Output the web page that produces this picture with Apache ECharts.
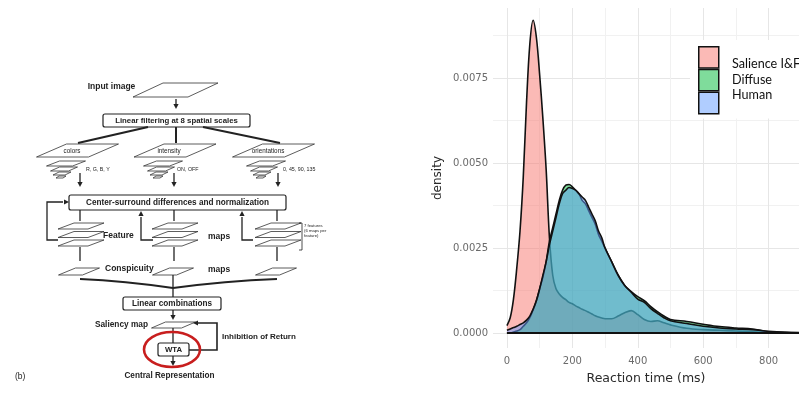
<!DOCTYPE html>
<html><head><meta charset="utf-8">
<script src="https://cdn.jsdelivr.net/npm/echarts@6/dist/echarts.min.js"></script>
<style>html,body{margin:0;padding:0;background:#fff}#c{width:799px;height:413px}</style>
</head><body><div id="c"></div>
<script>
// ---------- data ----------
const reactionTimes = [0,10,20,30,40,50,60,70,80,90,100,110,120,130,140,150,160,170,180,190,200,210,220,230,240,250,260,270,280,290,300,320,340,360,380,400,420,440,460,480,500,550,600,650,700,750,800,850,900];
const salience = [0.00022,0.00045,0.0010,0.0019,0.0030,0.0046,0.0068,0.0085,0.0092,0.0087,0.0076,0.0063,0.0048,0.0028,0.0017,0.0013,0.00115,0.00105,0.00098,0.0009,0.00086,0.0008,0.00075,0.0007,0.00066,0.00061,0.00056,0.00051,0.00047,0.00044,0.00042,0.00042,0.0005,0.0006,0.00066,0.00054,0.0004,0.00034,0.00036,0.0003,0.00024,0.00014,0.0001,0.00008,0.00006,0.00004,0.00002,0.00001,0];
const diffuse = [0,0,0.00003,0.00006,0.0001,0.0002,0.0003,0.00045,0.00068,0.00095,0.0013,0.00165,0.0021,0.0027,0.0031,0.0035,0.0039,0.0042,0.00435,0.00437,0.0043,0.0042,0.0041,0.0039,0.0038,0.0036,0.0034,0.0032,0.0029,0.0027,0.0025,0.0021,0.0017,0.0014,0.00122,0.00107,0.00095,0.00078,0.00063,0.0005,0.0004,0.00034,0.00026,0.00019,0.00015,0.00012,0.00004,0.00002,0.00001];
const human = [0.00008,0.00012,0.00016,0.0002,0.00025,0.0003,0.00038,0.0005,0.0007,0.00095,0.0013,0.0017,0.0021,0.0026,0.003,0.0034,0.0038,0.0041,0.0042,0.00428,0.00425,0.0042,0.0041,0.004,0.0039,0.0037,0.0035,0.0033,0.003,0.0028,0.0025,0.0021,0.0017,0.0014,0.0012,0.001,0.0009,0.00072,0.00058,0.00045,0.00036,0.00028,0.0002,0.00015,0.00012,0.0001,0.00005,0.00002,0.00001];
const seriesNames = ['Salience I&F','Diffuse','Human'];
const xTicks = [0,200,400,600,800];
const xMinorTicks = [100,300,500,700];
const yTicks = [0,0.0025,0.005,0.0075];
const yMinorTicks = [0.00125,0.00375,0.00625,0.00875];
const xTitle = 'Reaction time (ms)';
const yTitle = 'density';

// ---------- left diagram (schematic drawn with graphic elements) ----------
const INK = '#222';
const els = [];
function line(pts, w){ els.push({type:'polyline', silent:true, shape:{points:pts}, style:{stroke:INK, lineWidth:w||1.3, fill:null}}); }
function arrowHead(x,y,dir){
  const s=2.6, l=5; let p;
  if(dir==='down') p=[[x,y],[x-s,y-l],[x+s,y-l]];
  if(dir==='up') p=[[x,y],[x-s,y+l],[x+s,y+l]];
  if(dir==='right') p=[[x,y],[x-l,y-s],[x-l,y+s]];
  if(dir==='left') p=[[x,y],[x+l,y-s],[x+l,y+s]];
  els.push({type:'polygon', silent:true, shape:{points:p}, style:{fill:INK}});
}
function para(cx,cy,w,h,sk,lw){
  const p=[[cx-w/2-sk/2,cy+h/2],[cx-w/2+sk/2,cy-h/2],[cx+w/2+sk/2,cy-h/2],[cx+w/2-sk/2,cy+h/2]];
  els.push({type:'polygon', silent:true, shape:{points:p}, style:{fill:'#fff', stroke:'#333', lineWidth:lw||0.8}});
}
function box(x1,y1,x2,y2){ els.push({type:'rect', silent:true, shape:{x:x1,y:y1,width:x2-x1,height:y2-y1,r:2}, style:{fill:'#fff', stroke:INK, lineWidth:1.2}}); }
function txt(s,x,y,size,align,weight){
  els.push({type:'text', silent:true, x:x, y:y, style:{text:s, fontSize:size||8, fontFamily:'Liberation Sans', fontWeight:weight||'bold', fill:INK, textAlign:align||'center', textVerticalAlign:'middle', align:align||'center', verticalAlign:'middle'}});
}
// input image
txt('Input image',111.5,87,8.5);
para(175.5,90,55,14,30);
line([[176,99],[176,104]]); arrowHead(176,109,'down');
box(103,114,250,127);
txt('Linear filtering at 8 spatial scales',176.5,120.5,7.8);
line([[148,127],[78,143]],2); line([[176,127],[176,143]],2); line([[203,127],[280,143]],2);
// three channels
const chan = [
  {cx:77.5, label:'colors', lx:72, pyr:66, sub:'R, G, B, Y', sx:86, ax:80},
  {cx:175, label:'intensity', lx:169, pyr:163, sub:'ON, OFF', sx:177, ax:174},
  {cx:273.5, label:'orientations', lx:268, pyr:266, sub:'0, 45, 90, 135', sx:283, ax:278}
];
chan.forEach(c=>{
  para(c.cx,150.5,52,13,30);
  txt(c.label,c.lx,151.5,6.3,'center','normal');
  para(c.pyr,163.5,26,5,13); para(c.pyr-2,169,18,4,9); para(c.pyr-4,173.5,12,3,6); para(c.pyr-5,177,7,2,3);
  txt(c.sub,c.sx,170,5.3,'left','normal');
  line([[c.ax,173],[c.ax,182]]); arrowHead(c.ax,187,'down');
});
box(69,195,286,210);
txt('Center-surround differences and normalization',177.5,202.5,8.2);
// feedback loops
line([[58,240],[47,240],[47,202],[63,202]]); arrowHead(69,202,'right');
line([[153,240],[141,240],[141,217]]); arrowHead(141,211,'up');
line([[253,240],[242,240],[242,217]]); arrowHead(242,211,'up');
// feature maps & conspicuity maps
[80,174,277].forEach(x=>{
  line([[x,210],[x,221]]);
  para(x+1,226,30,6,16); para(x+1,234.5,30,6,16); para(x+1,243,30,6,16);
  line([[x,247],[x,261]]);
  para(x-1,271.5,24,7,17);
});
txt('Feature',103,236,8.5,'left');
txt('maps',208,237,8.5,'left');
txt('Conspicuity',105,269,8.5,'left');
txt('maps',208,270,8.5,'left');
line([[299,223],[302,223],[302,250],[299,250]],0.8);
txt('7 features',304,226,4.2,'left','normal');
txt('(6 maps per',304,231,4.2,'left','normal');
txt('feature)',304,236,4.2,'left','normal');
// converge
els.push({type:'bezierCurve', silent:true, shape:{x1:80,y1:279,x2:173,y2:288,cpx1:125,cpy1:281}, style:{stroke:INK, lineWidth:2, fill:null}});
els.push({type:'bezierCurve', silent:true, shape:{x1:277,y1:279,x2:173,y2:288,cpx1:225,cpy1:281}, style:{stroke:INK, lineWidth:2, fill:null}});
line([[173,275],[173,298]]);
box(123,297,221,310);
txt('Linear combinations',172,303.5,8.2);
line([[173,310],[173,315]]); arrowHead(173,320,'down');
txt('Saliency map',148,325,8.3,'right');
para(173.5,325,30,6,14);
line([[173,328],[173,344]]);
box(158,343,189,356);
txt('WTA',173.5,349.5,7.8);
line([[189,350],[217,350],[217,323],[198,323]],1.6); arrowHead(193,323,'left');
txt('Inhibition of Return',222,337,8,'left');
line([[173,356],[173,361]]); arrowHead(173,366,'down');
els.push({type:'ellipse', silent:true, shape:{cx:172,cy:349.5,rx:28,ry:17.5}, style:{fill:null, stroke:'#c81e1e', lineWidth:2.6}});
txt('Central Representation',169.5,376,8.2);
txt('(b)',15,377,8.5,'left','normal');

// ---------- chart ----------
const fills = ['rgba(248,118,109,0.5)','rgba(0,186,56,0.5)','rgba(97,156,255,0.5)'];
const values = [salience, diffuse, human];
const series = values.map((v,k)=>({
  name: seriesNames[k], type:'line', symbol:'none', smooth:0.35,
  data: reactionTimes.map((t,i)=>[t, v[i]]),
  lineStyle:{color:'#111', width:1.6},
  areaStyle:{color:fills[k], opacity:1},
  itemStyle:{color:fills[k]},
  z: 3+k
}));
series.push({name:'base', type:'line', symbol:'none', silent:true,
  data:[[reactionTimes[0],0],[reactionTimes[reactionTimes.length-1],0]],
  lineStyle:{color:'#111', width:2}, z:7});

const xMin = -42.6, xMax = 893, yMin = -0.00044, yMax = 0.00956;
const lblColor = '#6a6a6a';
const option = {
  animation:false,
  backgroundColor:'#fff',
  grid:{left:493, right:-12, top:8, bottom:65},
  xAxis:[
    {type:'value', min:xMin, max:xMax,
     axisLine:{show:false, onZero:false}, axisTick:{show:false, customValues:xTicks},
     axisLabel:{customValues:xTicks, color:lblColor, fontSize:10, fontFamily:'DejaVu Sans', margin:8},
     splitLine:{show:true, lineStyle:{color:'#e6e6e6', width:1}},
     name:xTitle, nameLocation:'middle', nameGap:24,
     nameTextStyle:{fontSize:12.5, color:'#2a2a2a', fontFamily:'DejaVu Sans'}},
    {type:'value', min:xMin, max:xMax, position:'bottom',
     axisLine:{show:false, onZero:false}, axisTick:{show:false, customValues:xMinorTicks},
     axisLabel:{show:false},
     splitLine:{show:true, lineStyle:{color:'#f1f1f1', width:1}}}
  ],
  yAxis:[
    {type:'value', min:yMin, max:yMax,
     axisLine:{show:false}, axisTick:{show:false, customValues:yTicks},
     axisLabel:{customValues:yTicks, color:lblColor, fontSize:10, fontFamily:'DejaVu Sans', margin:5,
       formatter:v=>v.toFixed(4)},
     splitLine:{show:true, lineStyle:{color:'#e6e6e6', width:1}},
     name:yTitle, nameLocation:'middle', nameGap:49,
     nameTextStyle:{fontSize:12, color:'#2a2a2a', fontFamily:'DejaVu Sans'}},
    {type:'value', min:yMin, max:yMax,
     axisLine:{show:false}, axisTick:{show:false, customValues:yMinorTicks},
     axisLabel:{show:false},
     splitLine:{show:true, lineStyle:{color:'#f1f1f1', width:1}}}
  ],
  legend:[
    { // colour keys
      orient:'vertical', left:690, top:40, itemWidth:20, itemHeight:21.3, itemGap:0,
      padding:[6,100,4,8], backgroundColor:'#fff', icon:'rect', selectedMode:false,
      data: seriesNames.map((n,k)=>({name:n, itemStyle:{color:fills[k], borderColor:'#111', borderWidth:1.5}})),
      formatter: () => '',
      textStyle:{fontSize:8}
    },
    { // labels
      orient:'vertical', left:727, top:56.25, itemWidth:0, itemHeight:15.5, itemGap:0,
      padding:0, icon:'none', selectedMode:false,
      data: seriesNames.slice(),
      textStyle:{fontFamily:'Lato', fontSize:12.6, color:'#111', lineHeight:15.5, height:15.5}
    }
  ],
  series: series,
  graphic:{elements:els}
};
const chart = echarts.init(document.getElementById('c'), null, {renderer:'canvas'});
chart.setOption(option);
</script></body></html>
